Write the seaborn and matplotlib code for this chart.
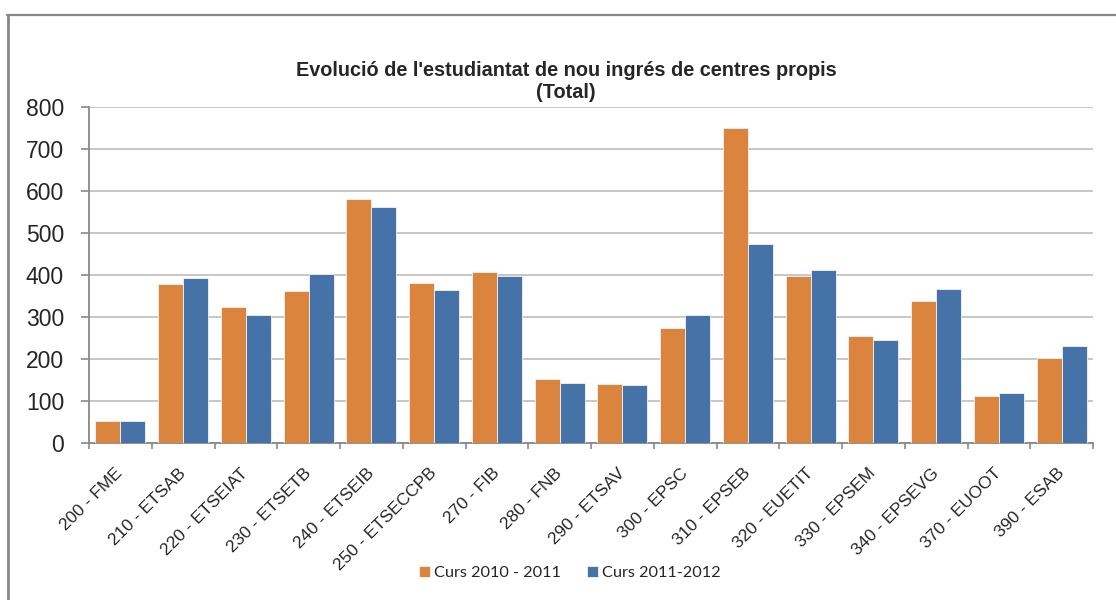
import numpy as np
import pandas as pd
import matplotlib
matplotlib.use("Agg")
import matplotlib.pyplot as plt
import seaborn as sns
from matplotlib.lines import Line2D
from matplotlib.ticker import FixedLocator, MultipleLocator

categories = ["200 - FME", "210 - ETSAB", "220 - ETSEIAT", "230 - ETSETB", "240 - ETSEIB",
              "250 - ETSECCPB", "270 - FIB", "280 - FNB", "290 - ETSAV", "300 - EPSC",
              "310 - EPSEB", "320 - EUETIT", "330 - EPSEM", "340 - EPSEVG", "370 - EUOOT",
              "390 - ESAB"]
curs_2010_2011 = [52, 378, 323, 362, 580, 382, 408, 153, 140, 275, 751, 398, 254, 339, 113, 202]
curs_2011_2012 = [52, 394, 304, 403, 561, 365, 398, 144, 137, 304, 473, 413, 246, 366, 118, 231]
series_names = ["Curs 2010 - 2011", "Curs 2011-2012"]
title_text = "Evolució de l'estudiantat de nou ingrés de centres propis\n(Total)"

df = pd.DataFrame({
    "centre": categories * 2,
    "valor": curs_2010_2011 + curs_2011_2012,
    "curs": [series_names[0]] * len(categories) + [series_names[1]] * len(categories),
})

sns.set_style("white")
plt.rcParams["font.family"] = ["Liberation Sans", "DejaVu Sans"]

fig = plt.figure(figsize=(11.16, 6.0), dpi=100)
ax = fig.add_axes([89 / 1116, 1 - 443 / 600, (1093 - 89) / 1116, (443 - 107) / 600])

palette = {series_names[0]: "#DB843D", series_names[1]: "#4572A7"}
sns.barplot(data=df, x="centre", y="valor", hue="curs", palette=palette,
            order=categories, hue_order=series_names, width=0.8, ax=ax,
            edgecolor="#F3F3F3", linewidth=0.6, saturation=1, errorbar=None, zorder=3)

ax.set_xlim(-0.5, len(categories) - 0.5)
ax.set_ylim(0, 800)
ax.yaxis.set_major_locator(MultipleLocator(100))
ax.set_xlabel("")
ax.set_ylabel("")

ax.grid(axis="y", color="#C3C3C3", linewidth=1.3, zorder=0)
ax.grid(axis="x", visible=False)
for s in ["top", "right"]:
    ax.spines[s].set_visible(False)
for s in ["left", "bottom"]:
    ax.spines[s].set_color("#888888")
    ax.spines[s].set_linewidth(1.3)

ax.tick_params(axis="y", which="major", direction="out", length=6, width=1.2,
               color="#888888", labelsize=16.5, pad=12, left=True)
# x: tick marks at category boundaries, labels at centers
ax.xaxis.set_minor_locator(FixedLocator(np.arange(-0.5, len(categories), 1.0)))
ax.tick_params(axis="x", which="minor", direction="out", length=4, width=1.2,
               color="#888888", bottom=True)
ax.tick_params(axis="x", which="major", length=0, pad=20, labelsize=12.5)
for lbl in ax.get_xticklabels():
    lbl.set_rotation(45)
    lbl.set_ha("right")
    lbl.set_va("center")
    lbl.set_rotation_mode("anchor")

# legend
handles, labels = ax.get_legend_handles_labels()
if ax.legend_ is not None:
    ax.legend_.remove()
leg = fig.legend(handles, labels, loc="center", bbox_to_anchor=(570 / 1116, 1 - 573 / 600),
                 ncol=2, frameon=False, prop={"family": ["Lato", "DejaVu Sans"], "size": 11.7},
                 handlelength=0.68, handleheight=0.68, handletextpad=0.25, columnspacing=1.6)

fig.text(566 / 1116, 1 - 81 / 600, title_text, ha="center", va="center",
         fontsize=14.3, fontweight="bold", linespacing=1.2)

# outer chart border (left and top visible)
fig.add_artist(Line2D([7.5 / 1116, 7.5 / 1116], [0, 1 - 14.5 / 600], color="#888888",
                      linewidth=2.0, transform=fig.transFigure))
fig.add_artist(Line2D([6.5 / 1116, 1], [1 - 14.5 / 600, 1 - 14.5 / 600], color="#888888",
                      linewidth=1.6, transform=fig.transFigure))

fig.savefig("out.png", dpi=100)
